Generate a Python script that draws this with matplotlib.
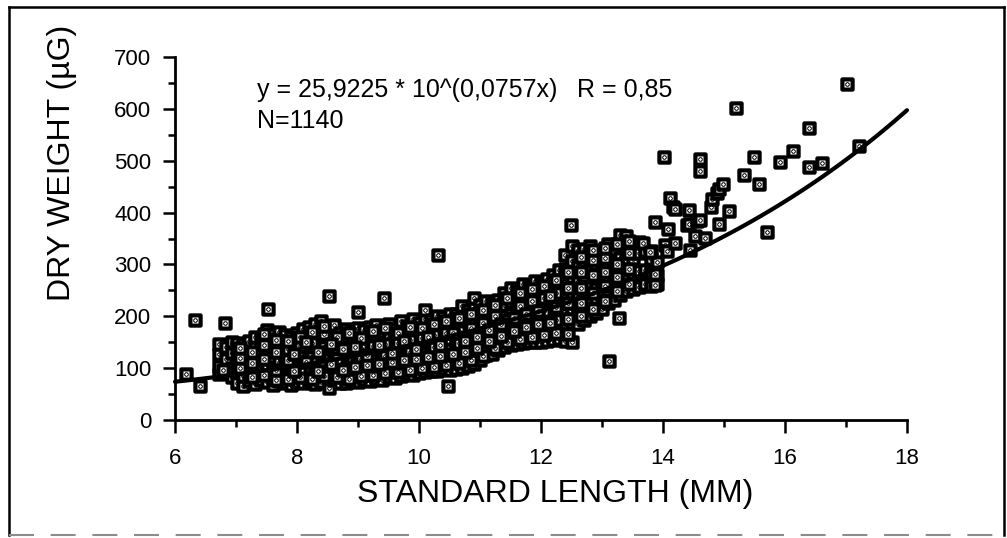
import matplotlib
matplotlib.use("Agg")
import matplotlib.pyplot as plt
import numpy as np
from matplotlib.path import Path
from matplotlib.lines import Line2D

plt.rcParams["font.family"] = ["Liberation Sans", "DejaVu Sans"]
plt.rcParams["path.simplify"] = False

# fitted curve printed on the chart: y = a * 10^(b x)
fit_a = 25.9225
fit_b = 0.0757

# main cloud, read column by column (length in mm -> weights in ug)
band_length = [
    6.72, 6.83, 6.93, 7.02, 7.12, 7.21, 7.31, 7.41, 7.50, 7.60,
    7.70, 7.80, 7.90, 8.00, 8.10, 8.20, 8.30, 8.40, 8.52, 8.61,
    8.70, 8.80, 8.90, 9.00, 9.10, 9.20, 9.30, 9.40, 9.50, 9.60,
    9.70, 9.80, 9.90, 10.00, 10.10, 10.20, 10.30, 10.40, 10.50, 10.60,
    10.70, 10.80, 10.90, 11.00, 11.10, 11.20, 11.30, 11.40, 11.50, 11.60,
    11.70, 11.80, 11.90, 12.00, 12.10, 12.20, 12.30, 12.40, 12.50, 12.60,
    12.70, 12.80, 12.90, 13.00, 13.10, 13.20, 13.30, 13.40, 13.50, 13.60,
    13.70, 13.80, 13.90,
]
band_weight = [
    [88, 104, 128, 147], [96, 118, 140], [82, 101, 129, 150],
    [72, 93, 112, 136, 149], [66, 84, 106, 124, 147],
    [75, 97, 118, 141, 153], [70, 90, 104, 127, 141, 160],
    [78, 96, 115, 136, 158], [73, 88, 107, 130, 152, 174],
    [68, 84, 101, 122, 143, 165], [75, 93, 112, 134, 156, 170],
    [72, 89, 106, 125, 148, 163], [68, 85, 103, 121, 140, 160],
    [74, 93, 110, 131, 152, 168], [71, 88, 105, 124, 146, 166, 176],
    [76, 95, 114, 133, 155, 180], [70, 87, 104, 123, 142, 163, 185],
    [74, 92, 111, 130, 150, 172, 191], [62, 80, 99, 118, 138, 158, 179],
    [77, 95, 113, 135, 157, 183], [72, 90, 109, 128, 147, 168],
    [71, 88, 106, 125, 144, 160, 176], [75, 94, 113, 132, 152, 172],
    [73, 90, 108, 127, 146, 165, 178], [78, 96, 115, 134, 155, 174],
    [76, 93, 111, 130, 149, 168, 180], [80, 98, 117, 136, 157, 183],
    [78, 95, 113, 132, 152, 170], [83, 101, 120, 140, 160, 185],
    [81, 99, 118, 137, 156, 176], [84, 102, 121, 141, 162, 190],
    [88, 106, 125, 145, 166, 182], [86, 104, 124, 143, 163, 195],
    [91, 109, 128, 148, 168, 188], [93, 111, 131, 151, 172, 195, 212],
    [95, 114, 133, 153, 174, 193], [94, 113, 134, 155, 176, 200],
    [98, 117, 137, 158, 180, 198], [96, 116, 136, 157, 178, 205],
    [98, 118, 139, 160, 182, 204], [101, 121, 142, 164, 187, 219],
    [104, 124, 145, 167, 190, 212], [108, 128, 149, 171, 194, 216, 235],
    [115, 134, 154, 176, 199, 221], [125, 143, 163, 184, 206, 230],
    [128, 147, 167, 188, 210, 228], [135, 154, 174, 195, 217, 232],
    [140, 159, 179, 200, 222, 245], [145, 164, 184, 205, 228, 255],
    [147, 166, 187, 209, 232, 250], [148, 168, 190, 213, 237, 262],
    [150, 171, 193, 216, 240, 258], [150, 172, 195, 219, 244, 268],
    [151, 174, 198, 222, 247, 265], [152, 176, 201, 226, 251, 272],
    [155, 179, 204, 230, 256, 280], [156, 182, 208, 235, 262, 290],
    [153, 178, 205, 233, 262, 292, 318], [150, 188, 215, 245, 275, 306, 335],
    [185, 212, 240, 268, 298, 327], [192, 220, 248, 277, 306, 330],
    [200, 228, 256, 290, 318, 335], [206, 235, 262, 274, 300, 325],
    [215, 242, 270, 298, 322], [225, 250, 276, 300, 319, 340],
    [232, 258, 284, 297, 328], [241, 266, 290, 312, 357],
    [248, 275, 306, 330, 354], [252, 282, 310, 338],
    [256, 288, 323, 344], [262, 290, 326], [259, 285, 310, 325],
    [262, 280, 305],
]

# second pass through the thick middle of the cloud
core_length = [7.06, 7.26, 7.46, 7.65, 7.85, 8.05, 8.25, 8.45, 8.65, 8.85,
               9.05, 9.25, 9.45, 9.65, 9.85, 10.05, 10.25, 10.45, 10.65, 10.85,
               11.05, 11.25, 11.45, 11.65, 11.85, 12.05, 12.25, 12.45, 12.65,
               12.85, 13.05, 13.25, 13.45]
core_weight = [
    [100, 120, 138], [82, 110, 132], [86, 118, 145, 165], [78, 96, 132, 155],
    [80, 115, 137, 152], [82, 100, 142, 160], [80, 122, 148, 170],
    [84, 105, 140, 165, 182], [82, 118, 138, 160], [80, 99, 135, 168],
    [84, 118, 138, 158], [86, 104, 142, 172], [90, 124, 146, 178],
    [92, 110, 148, 168], [96, 132, 155, 180], [100, 119, 158, 178],
    [103, 140, 163, 186], [107, 126, 168, 190], [110, 148, 172, 196],
    [115, 135, 178, 204], [124, 160, 188, 212], [138, 178, 200, 222],
    [150, 170, 192, 236], [157, 199, 220, 245], [160, 183, 206, 230, 252],
    [163, 210, 235, 258], [167, 192, 218, 245, 270], [166, 195, 225, 255, 285],
    [200, 226, 255, 285, 315], [215, 245, 280, 308, 328],
    [230, 258, 286, 312, 332], [248, 275, 300, 340], [262, 292, 322, 345],
]

# extra fish packed in the darkest stretch of the cloud
fill_length = [7.95, 8.15, 8.35, 8.55, 8.75, 8.95, 9.15, 9.35, 9.55, 9.75,
               9.95, 10.15, 10.35, 10.55, 10.75, 10.95, 11.15, 11.35, 11.55,
               11.75, 11.95, 12.15]
fill_weight = [
    [95, 128], [112, 150], [95, 132], [108, 146], [97, 136], [103, 140],
    [107, 125], [108, 145], [112, 130], [115, 152], [118, 136], [122, 160],
    [124, 145], [128, 167], [131, 153], [138, 160], [152, 173], [162, 185],
    [172, 196], [180, 204], [185, 210], [188, 240],
]

# looser points above the cloud at the large end
upper_length = [13.68, 13.79, 13.87, 13.87, 13.87, 14.03, 14.06, 14.09, 14.11,
                14.17, 14.20, 14.20, 14.39, 14.42, 14.42, 14.44, 14.52, 14.55,
                14.61, 14.69, 14.78, 14.80, 14.88, 14.91, 14.92, 14.99, 15.08,
                14.02, 14.60, 14.60, 15.32, 15.49, 15.57, 15.70, 15.91, 16.13,
                16.40, 16.61, 16.39, 15.19, 17.02, 17.21]
upper_weight = [341, 324, 381, 282, 261, 338, 325, 368, 428,
                410, 342, 407, 376, 404, 378, 327, 354, 383,
                386, 351, 410, 426, 438, 378, 445, 456, 403,
                507, 503, 481, 472, 508, 455, 362, 497, 519,
                487, 496, 564, 602, 648, 529]

# isolated points around the cloud
outlier_length = [6.18, 6.33, 6.41, 6.79, 6.82, 7.52, 8.52, 9.00, 9.43,
                  10.31, 10.48, 12.49, 13.28, 13.11]
outlier_weight = [89, 193, 66, 96, 188, 214, 239, 209, 235,
                  318, 66, 376, 197, 114]


def flatten(xs, yss):
    return ([x for x, ys in zip(xs, yss) for _ in ys],
            [y for ys in yss for y in ys])


band_x, band_y = flatten(band_length, band_weight)
core_x, core_y = flatten(core_length, core_weight)
fill_x, fill_y = flatten(fill_length, fill_weight)

# square with a dot in the middle, as in the original symbol
sq = [(-0.5, -0.5), (0.5, -0.5), (0.5, 0.5), (-0.5, 0.5), (-0.5, -0.5)]
dot = [(-0.02, -0.02), (0.02, -0.02), (0.02, 0.02), (-0.02, 0.02), (-0.02, -0.02)]
codes = [Path.MOVETO, Path.LINETO, Path.LINETO, Path.LINETO, Path.CLOSEPOLY]
marker = Path(sq + dot, codes + codes)

fig = plt.figure(figsize=(10.07, 5.38), dpi=100)
ax = fig.add_axes([175 / 1007, 1 - 420 / 538, 732 / 1007, 363 / 538])

for xs, ys in [(band_x, band_y), (core_x, core_y), (fill_x, fill_y),
               (upper_length, upper_weight), (outlier_length, outlier_weight)]:
    sc = ax.scatter(xs, ys, s=54, marker=marker, facecolor="white",
                    edgecolor="black", linewidths=3.0, clip_on=False,
                    zorder=2)
    sc.set_snap(False)

curve_x = np.linspace(6, 18, 200)
ax.plot(curve_x, fit_a * 10 ** (fit_b * curve_x), color="black", lw=3,
        solid_capstyle="round", zorder=3, clip_on=False)

ax.set_xlim(6, 18)
ax.set_ylim(0, 700)
ax.set_xticks(range(6, 19, 2))
ax.set_xticks(range(7, 18, 2), minor=True)
ax.set_yticks(range(0, 701, 100))
ax.set_yticks(range(50, 700, 100), minor=True)
for side in ["top", "right"]:
    ax.spines[side].set_visible(False)
for side in ["left", "bottom"]:
    ax.spines[side].set_linewidth(2)
ax.tick_params(which="major", length=9, width=1.8, labelsize=16)
ax.tick_params(which="minor", length=5, width=1.8)
ax.tick_params(axis="x", which="major", pad=11)
ax.tick_params(axis="y", which="major", pad=8)

fig.text(62 / 1007, 1 - 163 / 538, "DRY WEIGHT (\u00b5G)", rotation=90,
         fontsize=23, ha="center", va="center")
fig.text(555 / 1007, 1 - 494 / 538, "STANDARD LENGTH (MM)",
         fontsize=23, ha="center", va="center")
fig.text(257 / 1007, 1 - 90 / 538, "y = 25,9225 * 10^(0,0757x)",
         fontsize=18, ha="left", va="center")
fig.text(577 / 1007, 1 - 90 / 538, "R = 0,85",
         fontsize=18, ha="left", va="center")
fig.text(257 / 1007, 1 - 121 / 538, "N=1140",
         fontsize=18, ha="left", va="center")

# page frame around the figure
w, h = 1007, 538
for (x0, y0, x1, y1) in [(9, 7, 1004, 7), (9, 7, 9, 535), (1004, 7, 1004, 535)]:
    fig.add_artist(Line2D([x0 / w, x1 / w], [1 - y0 / h, 1 - y1 / h],
                          color="black", lw=1.8))
fig.add_artist(Line2D([9 / w, 1004 / w], [1 - 535 / h, 1 - 535 / h],
                      color="0.55", lw=1.5, linestyle=(0, (12, 8))))

fig.savefig("out.png", dpi=100)
